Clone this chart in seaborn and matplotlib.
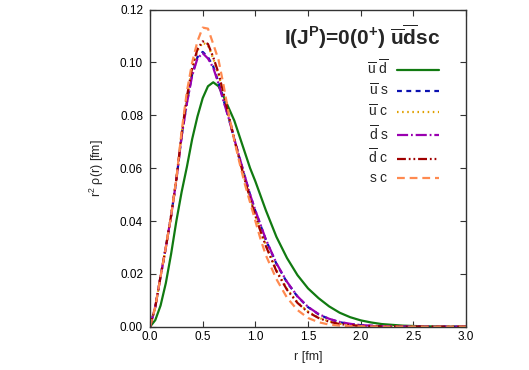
import numpy as np
import pandas as pd
import seaborn as sns
import matplotlib
matplotlib.use("Agg")
import matplotlib.pyplot as plt
from matplotlib.ticker import FormatStrFormatter

# ---------------- data ----------------
r = [0.0, 0.05, 0.1, 0.15, 0.2, 0.25, 0.3, 0.35, 0.4, 0.45, 0.5, 0.55, 0.6,
     0.65, 0.7, 0.75, 0.8, 0.85, 0.9, 0.95, 1.0, 1.05, 1.1, 1.2, 1.3, 1.4,
     1.5, 1.6, 1.7, 1.8, 1.9, 2.0, 2.1, 2.2, 2.4, 2.6, 2.8, 3.0]

ud = [0.0, 0.0025, 0.008, 0.0165, 0.0275, 0.040, 0.051, 0.0605, 0.071, 0.0795,
      0.0865, 0.091, 0.0925, 0.091, 0.087, 0.0825, 0.078, 0.072, 0.066, 0.060,
      0.055, 0.0495, 0.044, 0.034, 0.026, 0.0195, 0.0145, 0.0108, 0.0077,
      0.0053, 0.0036, 0.0024, 0.0016, 0.0010, 0.0004, 0.00015, 0.00005, 0.0]

us = [0.0, 0.0075, 0.019, 0.030, 0.042, 0.0555, 0.0722, 0.085, 0.0955, 0.102,
      0.104, 0.102, 0.0985, 0.0925, 0.0855, 0.0785, 0.071, 0.0638, 0.0568,
      0.050, 0.0438, 0.0383, 0.0328, 0.0238, 0.0168, 0.0114, 0.0074, 0.0047,
      0.0029, 0.0017, 0.0010, 0.0006, 0.0003, 0.0002, 0.00006, 0.00002, 0.0, 0.0]

uc = [0.0, 0.0075, 0.019, 0.030, 0.042, 0.0558, 0.0728, 0.0865, 0.0975, 0.1045,
      0.1075, 0.1065, 0.1015, 0.0955, 0.0875, 0.079, 0.071, 0.063, 0.0556,
      0.0487, 0.0423, 0.0364, 0.0309, 0.0214, 0.0143, 0.0092, 0.0057, 0.0034,
      0.0020, 0.0011, 0.0006, 0.0003, 0.00015, 0.0001, 0.00003, 0.0, 0.0, 0.0]

ds = [0.0, 0.0075, 0.019, 0.030, 0.042, 0.0555, 0.072, 0.0845, 0.095, 0.1015,
      0.1035, 0.1015, 0.098, 0.092, 0.085, 0.0785, 0.071, 0.064, 0.057, 0.050,
      0.044, 0.0385, 0.033, 0.024, 0.017, 0.0115, 0.0075, 0.0048, 0.0030,
      0.0018, 0.0011, 0.0006, 0.0004, 0.0002, 0.00007, 0.00002, 0.0, 0.0]

dc = [0.0, 0.0075, 0.019, 0.030, 0.042, 0.0558, 0.073, 0.087, 0.098, 0.105,
      0.108, 0.107, 0.102, 0.096, 0.088, 0.0795, 0.071, 0.063, 0.0555, 0.0485,
      0.042, 0.036, 0.0305, 0.021, 0.014, 0.009, 0.0055, 0.0033, 0.0019,
      0.0010, 0.0006, 0.0003, 0.00015, 0.0001, 0.00003, 0.0, 0.0, 0.0]

sc = [0.0, 0.0075, 0.019, 0.030, 0.042, 0.056, 0.074, 0.089, 0.100, 0.108,
      0.1132, 0.1128, 0.107, 0.101, 0.091, 0.080, 0.0705, 0.062, 0.054, 0.047,
      0.040, 0.033, 0.027, 0.018, 0.011, 0.0063, 0.0033, 0.0017, 0.0008,
      0.0004, 0.0002, 0.0001, 0.00005, 0.00002, 0.0, 0.0, 0.0, 0.0]

series_labels = [r"$\overline{\rm u}\ \overline{\rm d}$",
                 r"$\overline{\rm u}\ {\rm s}$",
                 r"$\overline{\rm u}\ {\rm c}$",
                 r"$\overline{\rm d}\ {\rm s}$",
                 r"$\overline{\rm d}\ {\rm c}$",
                 r"${\rm s}\ {\rm c}$"]
series_values = [ud, us, uc, ds, dc, sc]

xticks = [0.0, 0.5, 1.0, 1.5, 2.0, 2.5, 3.0]
yticks = [0.00, 0.02, 0.04, 0.06, 0.08, 0.10, 0.12]

# ---------------- style ----------------
sns.set_style("ticks")
plt.rcParams["font.family"] = ["Liberation Sans", "DejaVu Sans"]
plt.rcParams["mathtext.fontset"] = "custom"
plt.rcParams["mathtext.rm"] = "Liberation Sans"
plt.rcParams["mathtext.it"] = "Liberation Sans:italic"
plt.rcParams["mathtext.bf"] = "Liberation Sans:bold"

colors = ["#117a11", "#0a10b0", "#e0a000", "#9a00b0", "#a00000", "#ff8a50"]
dashes = [(None, None), (2.2, 2.0), (0.7, 1.6), (5, 1.3, 0.8, 1.3),
          (4, 1.3, 0.8, 1.3, 0.8, 1.3), (3.5, 2.2)]

fig = plt.figure(figsize=(5.29, 3.70), dpi=100)
ax = fig.add_axes([0.2836, 0.117, 0.5974, 0.857])

df = pd.DataFrame({"r": r})
for lab, vals, col, dsh in zip(series_labels, series_values, colors, dashes):
    df["v"] = vals
    sns.lineplot(data=df, x="r", y="v", ax=ax, color=col, lw=1.6, label=lab)
    line = ax.get_lines()[-1]
    if dsh[0] is not None:
        line.set_dashes(dsh)

ax.set_xlim(0, 3)
ax.set_ylim(0, 0.12)
ax.set_xticks(xticks)
ax.set_yticks(yticks)
ax.xaxis.set_major_formatter(FormatStrFormatter("%.1f"))
ax.yaxis.set_major_formatter(FormatStrFormatter("%.2f"))
ax.tick_params(direction="in", length=4, width=0.8, labelsize=8.5,
               top=True, right=True, colors="#333333", labelcolor="black")
ax.tick_params(axis="y", pad=5)
ax.tick_params(axis="x", pad=3)
for s in ax.spines.values():
    s.set_color("#333333")
    s.set_linewidth(1.0)
ax.set_xlabel("r [fm]", fontsize=9, labelpad=6)
ax.set_ylabel(r"r$^2$ ρ(r) [fm]", fontsize=9, labelpad=10)

ax.text(0.918, 0.889, r"I(J$^{\mathbf{P}}$)=0(0$^{\mathbf{+}}$) $\mathbf{\overline{u}\overline{d}sc}$",
        transform=ax.transAxes, ha="right", va="baseline",
        fontsize=15, fontweight="bold")

leg = ax.legend(loc="upper right", bbox_to_anchor=(0.944, 0.876),
                frameon=False, markerfirst=False, fontsize=10,
                handlelength=3.0, handletextpad=0.6, labelspacing=0.32,
                borderpad=0.2)

fig.savefig("out.png", dpi=100)
